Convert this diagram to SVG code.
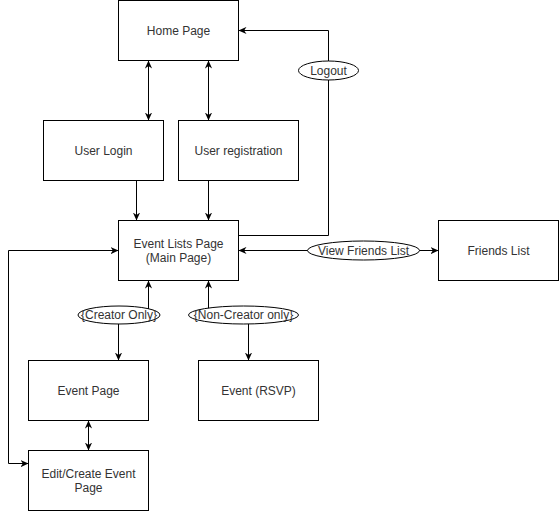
<svg xmlns="http://www.w3.org/2000/svg" width="559" height="511" viewBox="0 0 559 511">
<style>
.n rect{fill:#fff;stroke:#000;stroke-width:1}
.lbl ellipse{fill:#fff;stroke:#000;stroke-width:1}
text{font-family:"Liberation Sans",Arial,sans-serif;font-size:12px;fill:#333;text-anchor:middle}
.e{fill:none;stroke:#000;stroke-width:1}
</style>
<defs>
<marker id="a" viewBox="0 0 10 10" refX="10" refY="5" markerWidth="8" markerHeight="8" markerUnits="userSpaceOnUse" orient="auto-start-reverse">
<path d="M0,0.5 L10,5 L0,9.5 L3,5 Z" fill="#000"/>
</marker>
</defs>
<rect width="559" height="511" fill="#fff"/>
<g id="connectors">
<path class="e" d="M148.5,60.5 V120.5" marker-start="url(#a)" marker-end="url(#a)"/>
<path class="e" d="M208.5,60.5 V120.5" marker-start="url(#a)" marker-end="url(#a)"/>
<path class="e" d="M136.5,180.5 V220.5" marker-end="url(#a)"/>
<path class="e" d="M208.5,180.5 V220.5" marker-end="url(#a)"/>
<path class="e" d="M238.5,235.5 H328.5 V30.5 H238.5" marker-end="url(#a)"/>
<path class="e" d="M238.5,250.5 H438.5" marker-start="url(#a)" marker-end="url(#a)"/>
<path class="e" d="M118.5,360.5 V315.5 H148.5 V280.5" marker-start="url(#a)" marker-end="url(#a)"/>
<path class="e" d="M248.5,360.5 V315.5 H208.5 V280.5" marker-start="url(#a)" marker-end="url(#a)"/>
<path class="e" d="M88.5,420.5 V450.5" marker-start="url(#a)" marker-end="url(#a)"/>
<path class="e" d="M28.5,463.5 H8.5 V250.5 H118.5" marker-start="url(#a)" marker-end="url(#a)"/>
<g class="lbl">
<ellipse cx="328.5" cy="70.5" rx="30" ry="9.5"/>
<text x="328.5" y="74.5">Logout</text>
<ellipse cx="363.5" cy="250.5" rx="56" ry="9.5"/>
<text x="363.5" y="254.5">View Friends List</text>
<ellipse cx="119" cy="315" rx="41" ry="9"/>
<text x="119" y="319">{Creator Only}</text>
<ellipse cx="243.5" cy="315" rx="55" ry="9"/>
<text x="243.5" y="319">{Non-Creator only}</text>
</g>
</g>
<g id="home" class="n"><rect x="118.5" y="0.5" width="120" height="60"/><text x="178.5" y="34.5">Home Page</text></g>
<g id="login" class="n"><rect x="43.5" y="120.5" width="120" height="60"/><text x="103.5" y="154.5">User Login</text></g>
<g id="registration" class="n"><rect x="178.5" y="120.5" width="120" height="60"/><text x="238.5" y="154.5">User registration</text></g>
<g id="eventlists" class="n"><rect x="118.5" y="220.5" width="120" height="60"/><text x="178.5" y="247.5">Event Lists Page</text><text x="178.5" y="262">(Main Page)</text></g>
<g id="friends" class="n"><rect x="438.5" y="220.5" width="120" height="60"/><text x="498.5" y="254.5">Friends List</text></g>
<g id="eventpage" class="n"><rect x="28.5" y="360.5" width="120" height="60"/><text x="88.5" y="394.5">Event Page</text></g>
<g id="rsvp" class="n"><rect x="198.5" y="360.5" width="120" height="60"/><text x="258.5" y="394.5">Event (RSVP)</text></g>
<g id="editcreate" class="n"><rect x="28.5" y="450.5" width="120" height="60"/><text x="88.5" y="477.5">Edit/Create Event</text><text x="88.5" y="492">Page</text></g>
</svg>
